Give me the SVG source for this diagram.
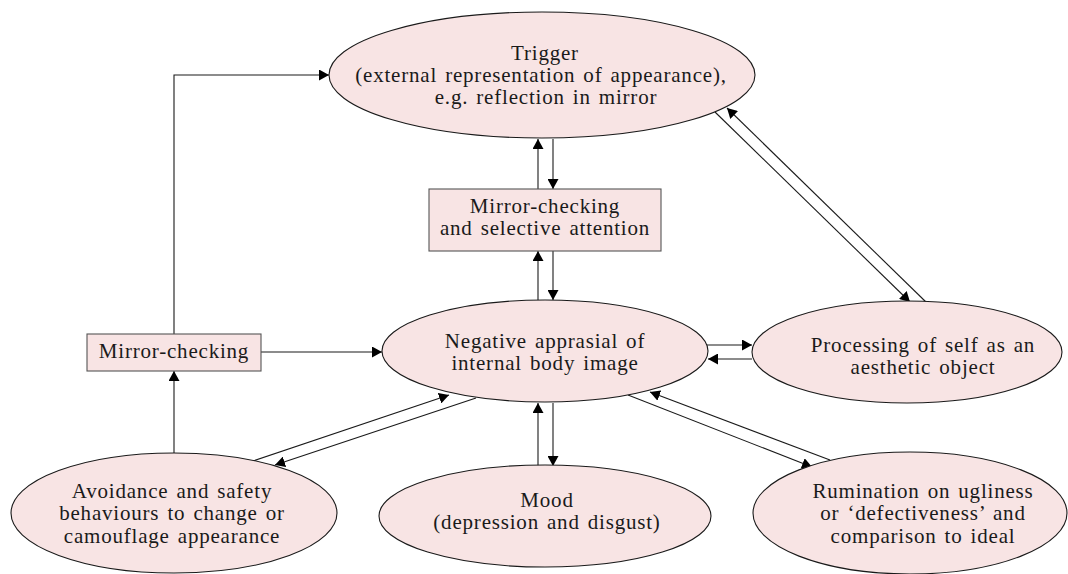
<svg xmlns="http://www.w3.org/2000/svg" width="1068" height="574" viewBox="0 0 1068 574">
<style>
.node ellipse, .node rect { fill: #f8e4e4; stroke: #1a1a1a; stroke-width: 1.1; }
.node rect { stroke: #555; }
.node text { font-family: "Liberation Serif", "Times New Roman", serif; font-size: 21px; letter-spacing: 0.8px; word-spacing: 2px; fill: #1a1a1a; text-anchor: middle; }
.conn line, .conn path { stroke: #1a1a1a; stroke-width: 1.1; fill: none; marker-end: url(#ah); }
</style>
<defs>
<marker id="ah" viewBox="0 0 10 11" refX="10" refY="5.5" markerWidth="10" markerHeight="11" markerUnits="userSpaceOnUse" orient="auto">
<path d="M0,0 L10,5.5 L0,11 z" fill="#000"/>
</marker>
</defs>
<rect width="1068" height="574" fill="#fff"/>

<g class="conn" id="connectors">
<line x1="538" y1="189" x2="538" y2="139"/>
<line x1="553" y1="139" x2="553" y2="189"/>
<line x1="538" y1="300" x2="538" y2="251"/>
<line x1="553" y1="251" x2="553" y2="300"/>
<line x1="538" y1="466" x2="538" y2="403"/>
<line x1="553" y1="403" x2="553" y2="466"/>
<line x1="707" y1="345" x2="752" y2="345"/>
<line x1="752" y1="359" x2="708" y2="359"/>
<line x1="261" y1="352" x2="382" y2="352"/>
<line x1="174" y1="453" x2="174" y2="371"/>
<path d="M174,334 L174,75 L329,75"/>
<line x1="253" y1="461" x2="449" y2="395"/>
<line x1="476" y1="398" x2="275" y2="465"/>
<line x1="628" y1="395" x2="812" y2="467"/>
<line x1="830" y1="460" x2="650" y2="392"/>
<line x1="715" y1="112" x2="910" y2="302"/>
<line x1="927" y1="303" x2="727" y2="108"/>
</g>

<g class="node" id="trigger">
<ellipse cx="542" cy="75" rx="213" ry="63"/>
<text x="545" y="60">Trigger</text>
<text x="541" y="82">(external representation of appearance),</text>
<text x="546" y="104">e.g. reflection in mirror</text>
</g>

<g class="node" id="mirror-selective">
<rect x="429" y="189" width="232" height="62"/>
<text x="545" y="213">Mirror-checking</text>
<text x="545" y="235">and selective attention</text>
</g>

<g class="node" id="negative">
<ellipse cx="545" cy="351" rx="163" ry="51"/>
<text x="545" y="348">Negative apprasial of</text>
<text x="545" y="370">internal body image</text>
</g>

<g class="node" id="mirror-checking">
<rect x="87" y="334" width="174" height="37"/>
<text x="174" y="358">Mirror-checking</text>
</g>

<g class="node" id="processing">
<ellipse cx="907" cy="352" rx="155" ry="51"/>
<text x="923" y="352">Processing of self as an</text>
<text x="923" y="374">aesthetic object</text>
</g>

<g class="node" id="avoidance">
<ellipse cx="174" cy="513" rx="163" ry="60"/>
<text x="172" y="498">Avoidance and safety</text>
<text x="172" y="520">behaviours to change or</text>
<text x="172" y="543">camouflage appearance</text>
</g>

<g class="node" id="mood">
<ellipse cx="545" cy="516" rx="166" ry="51"/>
<text x="547" y="507">Mood</text>
<text x="547" y="529">(depression and disgust)</text>
</g>

<g class="node" id="rumination">
<ellipse cx="910" cy="513" rx="157" ry="61"/>
<text x="923" y="498">Rumination on ugliness</text>
<text x="923" y="520">or ‘defectiveness’ and</text>
<text x="923" y="543">comparison to ideal</text>
</g>
</svg>
